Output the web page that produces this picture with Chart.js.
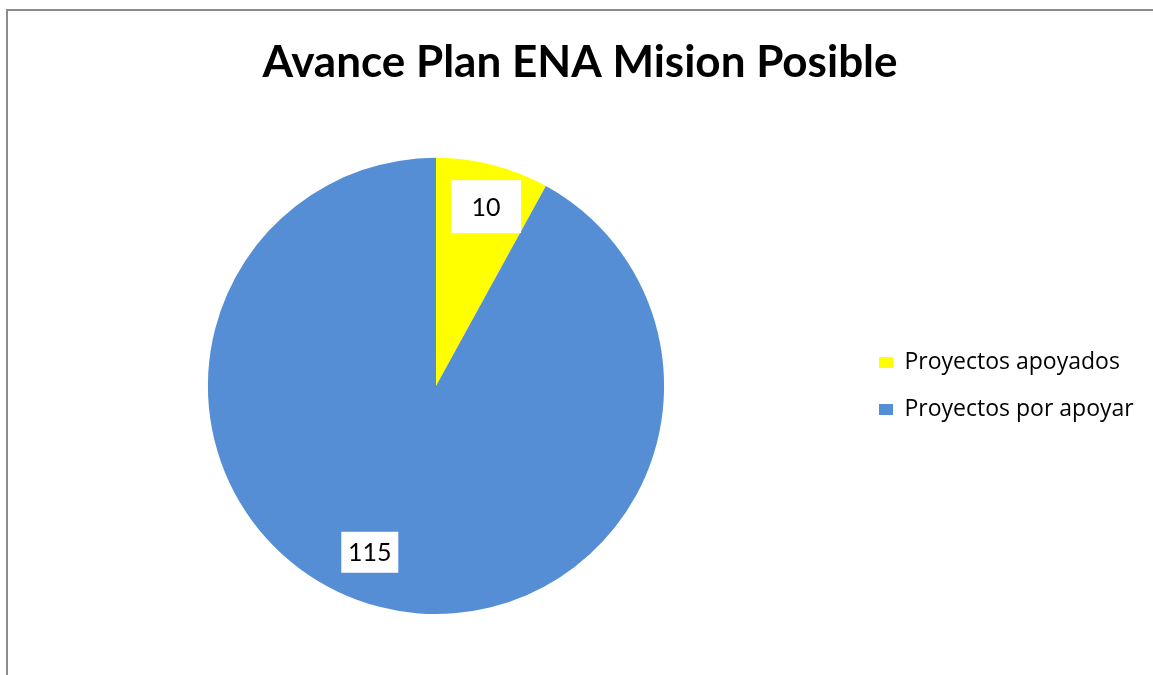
<!DOCTYPE html>
<html>
<head>
<meta charset="utf-8">
<script src="https://cdn.jsdelivr.net/npm/chart.js@4.4.1/dist/chart.umd.min.js"></script>
<style>
  html, body { margin: 0; padding: 0; background: #fff; overflow: hidden; }
  #wrap { position: absolute; left: 0; top: 0; width: 1153px; height: 675px; }
  #frame { position: absolute; left: 6px; top: 9px; width: 1147px; height: 666px;
           border-top: 2px solid #8c8c8c; border-left: 2px solid #8c8c8c; pointer-events: none; }
</style>
</head>
<body>
<div id="wrap"><canvas id="pieChart"></canvas></div>
<div id="frame"></div>
<script>
const categories = ['Proyectos apoyados', 'Proyectos por apoyar'];
const values = [10, 115];
const colors = ['#FFFF00', '#558ED5'];

// etiquetas con caja blanca, como en Excel
const labelBoxes = {
    id: 'labelBoxes',
    afterDatasetsDraw(chart, args, opts) {
        const ctx = chart.ctx;
        const arcs = chart.getDatasetMeta(0).data;
        ctx.save();
        ctx.font = opts.font;
        ctx.textAlign = 'center';
        ctx.textBaseline = 'middle';
        arcs.forEach((arc, i) => {
            const p = opts.pos[i];
            const mid = (arc.startAngle + arc.endAngle) / 2 + p.shift * Math.PI / 180;
            const r = arc.outerRadius * p.r;
            const x = arc.x + Math.cos(mid) * r;
            const y = arc.y + Math.sin(mid) * r;
            ctx.fillStyle = '#fff';
            ctx.fillRect(x - p.w / 2, y - p.h / 2, p.w, p.h);
            ctx.fillStyle = '#000';
            ctx.fillText(String(values[i]), x, y + 1);
        });
        ctx.restore();
    }
};

const ctx = document.getElementById('pieChart').getContext('2d');
const chart = new Chart(ctx, {
    type: 'pie',
    data: {
        labels: categories,
        datasets: [{
            data: values,
            backgroundColor: colors,
            borderWidth: 0
        }]
    },
    options: {
        responsive: true,
        maintainAspectRatio: false,
        animation: false,
        layout: { padding: { left: 17, right: 10, top: 0, bottom: 61 } },
        plugins: {
            title: {
                display: true,
                text: 'Avance Plan ENA Mision Posible',
                color: '#000',
                font: { family: 'Lato', size: 44, weight: 'bold' },
                padding: { top: 36, bottom: 69 }
            },
            legend: {
                position: 'right',
                fullSize: false,
                maxWidth: 288,
                labels: {
                    color: '#000',
                    font: { family: 'Open Sans', size: 23 },
                    boxWidth: 14,
                    boxHeight: 11,
                    padding: 24
                }
            },
            tooltip: { enabled: false },
            labelBoxes: {
                font: '25px Lato',
                pos: [
                    { r: 0.816, shift: 1.2, w: 70, h: 53 },
                    { r: 0.785, shift: 7.3, w: 57, h: 41 }
                ]
            }
        }
    },
    plugins: [labelBoxes]
});
</script>
</body>
</html>
